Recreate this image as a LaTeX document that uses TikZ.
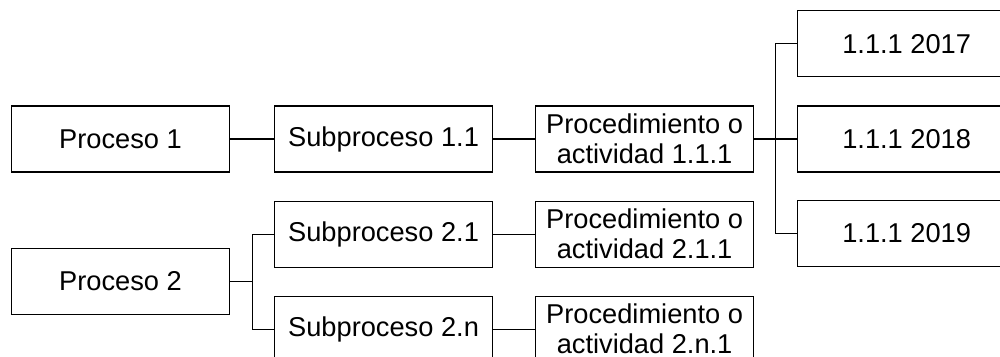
\documentclass[tikz,border=0pt]{standalone}
\usepackage{fontspec}
\setmainfont{Liberation Sans}
\usetikzlibrary{positioning}

\begin{document}
\begin{tikzpicture}[
  node distance=0.56cm and 0.86cm,
  box/.style={rectangle, draw, line width=0.6pt, minimum width=4.36cm, minimum height=1.32cm, inner sep=0pt, align=center, font=\fontsize{15.5}{17}\selectfont},
  link/.style={line width=0.6pt}
]

\clip (0,0) rectangle (20,-7.12);

\node[box] (proc1) at (2.41,-2.78) {Proceso 1};
\node[box, right=0.88cm of proc1] (sub11) {Subproceso 1.1};
\node[box, right=0.84cm of sub11] (act111) {Procedimiento o\\actividad 1.1.1};
\node[box, right=of act111] (y2018) {1.1.1 2018};
\node[box, above=of y2018] (y2017) {1.1.1 2017};
\node[box, below=0.54cm of y2018] (y2019) {1.1.1 2019};
\node[box, below=1.5cm of proc1] (proc2) {Proceso 2};
\node[box, below=of sub11] (sub21) {Subproceso 2.1};
\node[box, below=of sub21] (sub2n) {Subproceso 2.n};
\node[box, right=0.84cm of sub21] (act211) {Procedimiento o\\actividad 2.1.1};
\node[box, right=0.84cm of sub2n] (act2n1) {Procedimiento o\\actividad 2.n.1};

\draw[link] (proc1) -- (sub11);
\draw[link] (sub11) -- (act111);
\draw[link] (act111) -- (y2018);
\draw[link] (act111.east) -- ++(0.42,0) coordinate (bus) |- (y2017.west);
\draw[link] (bus) |- (y2019.west);
\draw[link] (proc2.east) -- ++(0.44,0) coordinate (fork) |- (sub21.west);
\draw[link] (fork) |- (sub2n.west);
\draw[link] (sub21) -- (act211);
\draw[link] (sub2n) -- (act2n1);

\end{tikzpicture}
\end{document}
